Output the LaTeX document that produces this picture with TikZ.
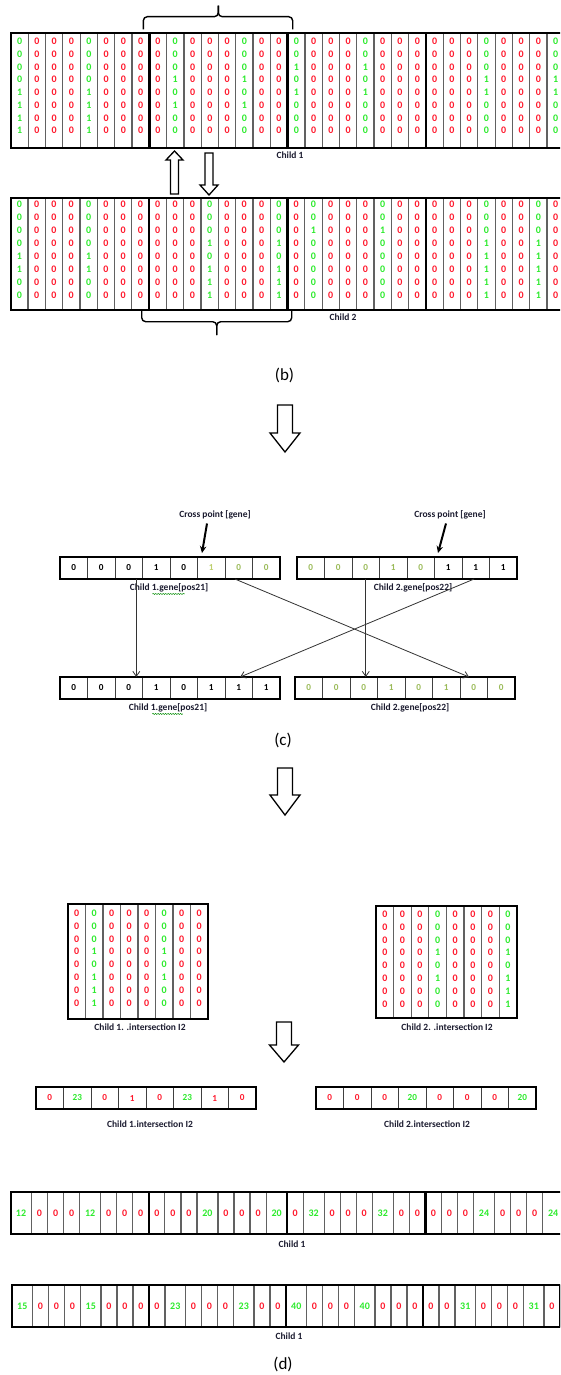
\documentclass[tikz,border=0pt]{standalone}
\usepackage{fontspec}
\setmainfont{Carlito}
\usetikzlibrary{arrows.meta,calc,decorations.pathmorphing}
\definecolor{cR}{RGB}{255,25,45}
\definecolor{cG}{RGB}{45,235,45}
\definecolor{cO}{RGB}{155,187,89}
\definecolor{cY}{RGB}{190,208,110}
\definecolor{cT}{RGB}{28,28,48}
\tikzset{
 dig/.style={font=\fontsize{10}{11}\selectfont\bfseries, inner sep=0pt},
 lbl/.style={font=\fontsize{9.5}{11}\selectfont\bfseries, text=cT, inner sep=0pt},
 captxt/.style={font=\fontsize{17}{19}\selectfont, inner sep=0pt},
 frame/.style={line width=2pt, black},
 blocksep/.style={line width=2.6pt, black},
 cellsep/.style={line width=1.2pt, black!62},
 hollow/.style={draw=black, fill=white, line width=1.3pt, line join=miter},
 brace/.style={line width=1.4pt, rounded corners=4pt, black},
 conn/.style={line width=0.8pt, black!80, -{Straight Barb[length=5pt,width=7pt]}},
 cross/.style={line width=2pt, -{Stealth[length=7pt,width=6.5pt]}},
 gcell/.style={minimum width=27.5pt, minimum height=22pt, inner sep=0pt, outer sep=0pt, font=\fontsize{9.2}{10}\selectfont\bfseries},
 squig/.style={decorate, decoration={snake, amplitude=0.6pt, segment length=2.5pt}, draw=green!55!black, line width=0.5pt},
}
\newcommand\redcols[6]{%
 \foreach \c in {#6} \foreach \r in {0,...,7}
   \node[dig,text=cR] (#1-\c-\r) at ({#2+(\c+0.5)*#3},{#4+\r*#5}) {0};}
\newcommand\greencol[7]{%
 \foreach \c in {#6} \foreach \v [count=\r from 0] in {#7}
   \node[dig,text=cG] (#1-\c-\r) at ({#2+(\c+0.5)*#3},{#4+\r*#5}) {\v};}
\newcommand\colseps[5]{%
 \foreach \c in {1,...,#5} {%
   \pgfmathtruncatemacro\mm{mod(\c,8)}%
   \ifnum\mm=0 \draw[blocksep] ({#1+\c*#2},#3) -- ({#1+\c*#2},#4);%
   \else \draw[cellsep] ({#1+\c*#2},#3) -- ({#1+\c*#2},#4);\fi}}
\newcommand\generow[4]{%
 \foreach \v/\cl [count=\i] in {#4}
   \node[gcell,text=\cl] (#1\i) at ({#2+(\i-0.5)*27.5},{#3+11}) {\v};
 \foreach \i in {1,...,7} \draw[line width=1pt, black!75] (#1\i.north east) -- (#1\i.south east);
 \draw[line width=1.6pt] (#11.north west) rectangle (#18.south east);}
\newcommand\bigrow[7]{%
 \xdef\xx{#2}%
 \foreach \v [count=\i] in {#7} {%
   \ifnum\v>9 \def\ww{#5}\def\mycc{cG}\else\def\ww{#6}\def\mycc{cR}\fi
   \pgfmathsetmacro\xb{\xx+\ww}%
   \node[dig,text=\mycc] (#1\i) at ({(\xx+\xb)/2},{(#3+#4)/2}) {\v};
   \pgfmathtruncatemacro\mm{mod(\i,8)}%
   \ifnum\mm=0 \draw[blocksep] (\xb,#3) -- (\xb,#4);%
   \else \draw[cellsep] (\xb,#3) -- (\xb,#4);\fi
   \xdef\xx{\xb}}%
 \draw[frame] (#2,#3) rectangle (\xx,#4);}
\newcommand\blockarrow[6]{%
 \draw[hollow] ({#1-#5},#2) -- ({#1+#5},#2) -- ({#1+#5},#3) -- ({#1+#6},#3) -- (#1,#4) -- ({#1-#6},#3) -- ({#1-#5},#3) -- cycle;}
\begin{document}
\begin{tikzpicture}[x=1pt,y=-1pt]
\useasboundingbox (0,0) rectangle (560,1375);
\fill[white] (0,0) rectangle (560,1375);
\clip (0,0) rectangle (560,1375);

% ---------- (b) Child 1 matrix ----------
\redcols{pa}{11}{17.29}{41.3}{12.77}{1,2,3,5,6,7,8,10,11,12,14,15,17,18,19,21,22,23,24,25,26,28,29,30}
\greencol{pa}{11}{17.29}{41.3}{12.77}{0,4}{0,0,0,0,1,1,1,1}
\greencol{pa}{11}{17.29}{41.3}{12.77}{9,13}{0,0,0,1,0,1,0,0}
\greencol{pa}{11}{17.29}{41.3}{12.77}{16,20}{0,0,1,0,1,0,0,0}
\greencol{pa}{11}{17.29}{41.3}{12.77}{27,31}{0,0,0,1,1,0,0,0}
\colseps{11}{17.29}{33.3}{147.7}{31}
\draw[frame] (11,33.3) rectangle (600,147.7);
\node[lbl] (lc1) at (290,155.5) {Child 1};
\draw[brace] (143.3,29.3) -- (143.3,16.7) -- (218.3,16.7) -- (218.3,5.7);
\draw[brace] (218.3,5.7) -- (218.3,16.7) -- (292.7,16.7) -- (292.7,29.3);

% ---------- arrows between ----------
\blockarrow{174.5}{194}{160}{151}{4}{8.5}
\blockarrow{209}{153}{185}{195}{4}{9}

% ---------- (b) Child 2 matrix ----------
\redcols{pb}{10.7}{17.3}{204.3}{13.06}{1,2,3,5,6,7,8,9,10,12,13,14,16,18,19,20,22,23,24,25,26,28,29,31}
\greencol{pb}{10.7}{17.3}{204.3}{13.06}{0,4}{0,0,0,0,1,1,0,0}
\greencol{pb}{10.7}{17.3}{204.3}{13.06}{11,15}{0,0,0,1,0,1,1,1}
\greencol{pb}{10.7}{17.3}{204.3}{13.06}{17,21}{0,0,1,0,0,0,0,0}
\greencol{pb}{10.7}{17.3}{204.3}{13.06}{27,30}{0,0,0,1,1,1,1,1}
\colseps{10.7}{17.3}{197.7}{310}{31}
\draw[frame] (10.7,197.7) rectangle (600,310);
\node[lbl] (lc2) at (343,317.5) {Child 2};
\draw[brace] (141.7,311) -- (141.7,321.7) -- (216.7,321.7) -- (216.7,335);
\draw[brace] (216.7,335) -- (216.7,321.7) -- (291.7,321.7) -- (291.7,311);

\node[captxt] (capb) at (284.5,375) {(b)};
\blockarrow{285}{405}{433}{452}{7.5}{15}

% ---------- (c) ----------
\node[lbl] (cp1) at (215,515) {Cross point [gene]};
\node[lbl] (cp2) at (450,515) {Cross point [gene]};
\generow{ua}{60}{557}{0/black,0/black,0/black,1/black,0/black,1/cY,0/cO,0/cO}
\generow{ub}{297}{557}{0/cO,0/cO,0/cO,1/cO,0/cO,1/black,1/black,1/black}
\generow{la}{60}{677}{0/black,0/black,0/black,1/black,0/black,1/black,1/black,1/black}
\generow{lb}{295}{677}{0/cO,0/cO,0/cO,1/cO,0/cO,1/cO,0/cO,0/cO}
\draw[cross] ($(cp1.south)+(-8,4)$) -- ($(ua6.north west)+(4.5,-4)$);
\draw[cross] ($(cp2.south)+(-4,4)$) -- ($(ub6.north west)+(3.5,-4)$);
\node[lbl] (gl1) at (169,588) {Child 1.gene[pos21]};
\node[lbl] (gl2) at (413,588) {Child 2.gene[pos22]};
\node[lbl] (gl3) at (168,708) {Child 1.gene[pos21]};
\node[lbl] (gl4) at (410,708) {Child 2.gene[pos22]};
\draw[squig] ($(gl1.south west)!0.29!(gl1.south east)+(0,1.5)$) -- ($(gl1.south west)!0.70!(gl1.south east)+(0,1.5)$);
\draw[squig] ($(gl3.south west)!0.30!(gl3.south east)+(0,1.5)$) -- ($(gl3.south west)!0.69!(gl3.south east)+(0,1.5)$);
\draw[conn] ($(ua3.south)!0.55!(ua3.south east)$) -- ($(la3.north)!0.55!(la3.north east)$);
\draw[conn] ($(ua7.south west)!0.36!(ua7.south east)$) -- ($(lb7.north west)!0.33!(lb7.north east)$);
\draw[conn] ($(ub7.south west)!0.44!(ub7.south east)$) -- ($(la7.north west)!0.55!(la7.north east)$);
\draw[conn] (ub3.south) -- (ub3.south |- lb3.north);
\node[captxt] (capc) at (283,740) {(c)};
\blockarrow{285}{768}{795}{815}{7.5}{15}

% ---------- (d) matrices ----------
\redcols{ma}{68}{17.5}{913}{12.9}{0,2,3,4,6,7}
\greencol{ma}{68}{17.5}{913}{12.9}{1}{0,0,0,1,0,1,1,1}
\greencol{ma}{68}{17.5}{913}{12.9}{5}{0,0,0,1,0,1,0,0}
\colseps{68}{17.5}{904}{1019}{7}
\draw[frame] (68,904) rectangle (208,1019);
\node[lbl] (ml1) at (140,1027.5) {Child 1. .intersection I2};

\redcols{mb}{376}{17.6}{914}{12.9}{0,1,2,4,5,6}
\greencol{mb}{376}{17.6}{914}{12.9}{3}{0,0,0,1,0,1,0,0}
\greencol{mb}{376}{17.6}{914}{12.9}{7}{0,0,0,1,0,1,1,1}
\colseps{376}{17.6}{906}{1018}{7}
\draw[frame] (376,906) rectangle (517,1018);
\node[lbl] (ml2) at (447,1027.5) {Child 2. .intersection I2};

\blockarrow{284}{1022}{1045}{1062}{7.5}{14.5}

\generow{ra}{36}{1087}{0/cR,23/cG,0/cR,1/cR,0/cR,23/cG,1/cR,0/cR}
\generow{rb}{316}{1087}{0/cR,0/cR,0/cR,20/cG,0/cR,0/cR,0/cR,20/cG}
\node[lbl] (rl1) at (150,1124) {Child 1.intersection I2};
\node[lbl] (rl2) at (427,1124) {Child 2.intersection I2};

\bigrow{ba}{10.5}{1192}{1234}{21}{16.05}{12,0,0,0,12,0,0,0,0,0,0,20,0,0,0,20,0,32,0,0,0,32,0,0,0,0,0,24,0,0,0,24}
\node[lbl] (bl1) at (292,1244) {Child 1};
\bigrow{bb}{12}{1285}{1327}{20.5}{16}{15,0,0,0,15,0,0,0,0,23,0,0,0,23,0,0,40,0,0,0,40,0,0,0,0,0,31,0,0,0,31,0}
\node[lbl] (bl2) at (289,1336) {Child 1};
\node[captxt] (capd) at (283,1364) {(d)};
\end{tikzpicture}
\end{document}
